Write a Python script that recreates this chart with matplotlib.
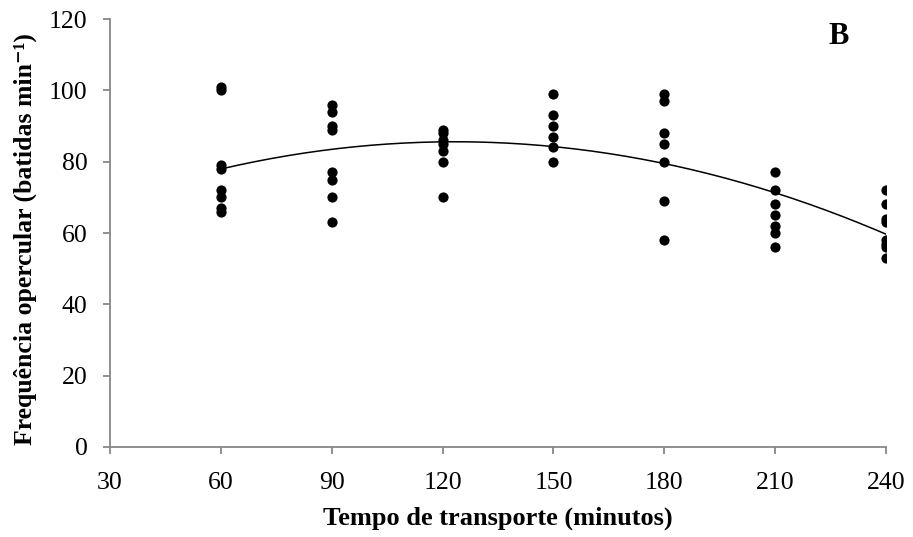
import numpy as np
import matplotlib
matplotlib.use("Agg")
import matplotlib.pyplot as plt

plt.rcParams['font.family'] = ['Liberation Serif', 'DejaVu Serif']

times = [60, 90, 120, 150, 180, 210, 240]
values = {
    60: [101, 100, 79, 78, 72, 70, 67, 66],
    90: [96, 94, 90, 89, 77, 75, 70, 63],
    120: [89, 88, 86, 85, 83, 80, 70],
    150: [99, 93, 90, 87, 84, 80],
    180: [99, 97, 88, 85, 80, 69, 58],
    210: [77, 72, 68, 65, 62, 60, 56],
    240: [72, 68, 64, 63, 58, 57, 56, 53],
}
x_ticks = [30, 60, 90, 120, 150, 180, 210, 240]
y_ticks = [0, 20, 40, 60, 80, 100, 120]

xs = np.concatenate([[t] * len(values[t]) for t in times])
ys = np.concatenate([values[t] for t in times])

fig = plt.figure(figsize=(9.13, 5.37), dpi=100)
ax = fig.add_axes([0.1205, 0.1676, 0.850, 0.797])

ax.scatter(xs, ys, s=54, color='black', zorder=3, linewidths=0)

coef = np.polyfit(xs, ys, 2)
xf = np.linspace(min(times), max(times), 200)
ax.plot(xf, np.polyval(coef, xf), color='black', lw=1.1, zorder=2)

ax.set_xlim(30, 240)
ax.set_ylim(0, 120)
ax.set_xticks(x_ticks)
ax.set_yticks(y_ticks)
for s in ['top', 'right']:
    ax.spines[s].set_visible(False)
for s in ['left', 'bottom']:
    ax.spines[s].set_color('#878787')
    ax.spines[s].set_linewidth(1.3)
ax.tick_params(axis='both', direction='out', length=5.3, width=1.3, color='#878787',
               labelsize=18.5, labelcolor='black')
ax.tick_params(axis='y', pad=11)
ax.tick_params(axis='x', pad=12.5)

ax.set_xlabel('Tempo de transporte (minutos)', fontsize=19, fontweight='bold', labelpad=9)
ax.set_ylabel('Frequência opercular (batidas min\u207b\u00b9)', fontsize=18.5,
              fontweight='bold')
ax.yaxis.set_label_coords(-0.094, 0.487)
ax.text(0.9394, 0.9416, 'B', transform=ax.transAxes, fontsize=22, fontweight='bold',
        ha='center', va='baseline')

fig.savefig('out.png', dpi=100)
